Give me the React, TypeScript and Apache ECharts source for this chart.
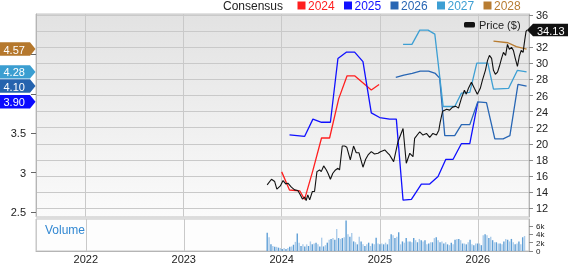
import React, { useEffect, useRef } from 'react';
import * as echarts from 'echarts';

const FONT = "'Liberation Sans', Arial, Helvetica, sans-serif";

// ---- Consensus EPS (left axis) ----
const eps2024Dates = ['2024-01-01', '2024-01-30', '2024-03-08', '2024-03-26', '2024-04-26', '2024-05-28', '2024-06-27', '2024-07-31', '2024-08-31', '2024-09-28', '2024-11-29', '2024-12-28'];
const eps2024Values = [3.01, 2.78, 2.77, 2.66, 3.03, 3.44, 3.44, 3.94, 4.23, 4.23, 4.05, 4.12];

const eps2025Dates = ['2024-01-30', '2024-03-26', '2024-04-26', '2024-05-28', '2024-06-30', '2024-07-28', '2024-08-28', '2024-09-28', '2024-10-29', '2024-11-29', '2024-12-30', '2025-02-05', '2025-03-02', '2025-03-27', '2025-04-27', '2025-06-03', '2025-07-04', '2025-08-04', '2025-09-02', '2025-09-29', '2025-10-30', '2025-11-30', '2025-12-30'];
const eps2025Values = [3.48, 3.46, 3.68, 3.64, 3.64, 4.45, 4.53, 4.53, 4.41, 3.76, 3.70, 3.68, 3.68, 2.65, 2.66, 2.855, 2.855, 2.95, 3.17, 3.17, 3.37, 3.37, 3.90];

const eps2026Dates = ['2025-02-28', '2025-03-30', '2025-04-30', '2025-05-30', '2025-06-30', '2025-07-25', '2025-08-10', '2025-08-29', '2025-10-05', '2025-10-30', '2025-11-30', '2025-12-30', '2026-01-31', '2026-03-03', '2026-04-03', '2026-04-28', '2026-05-28', '2026-06-29'];
const eps2026Values = [4.21, 4.24, 4.26, 4.29, 4.29, 4.26, 4.20, 3.47, 3.47, 3.61, 3.61, 3.90, 3.89, 3.43, 3.43, 3.47, 4.12, 4.10];

const eps2027Dates = ['2025-03-27', '2025-04-29', '2025-05-28', '2025-06-28', '2025-07-23', '2025-08-23', '2025-10-05', '2025-10-30', '2025-11-30', '2025-12-26', '2026-02-05', '2026-02-26', '2026-04-23', '2026-05-26', '2026-06-29'];
const eps2027Values = [4.63, 4.63, 4.81, 4.81, 4.76, 3.84, 3.84, 4.01, 4.02, 4.39, 4.39, 4.06, 4.07, 4.30, 4.28];

const eps2028Dates = ['2026-02-26', '2026-04-21', '2026-05-22', '2026-06-29'];
const eps2028Values = [4.67, 4.65, 4.60, 4.57];

// ---- Price (right axis) ----
const priceDates = ['2023-11-08', '2023-11-24', '2023-12-06', '2023-12-14', '2023-12-27', '2024-01-06', '2024-01-16', '2024-01-24', '2024-02-06', '2024-02-18', '2024-03-01', '2024-03-10', '2024-03-18', '2024-03-26', '2024-04-01', '2024-04-07', '2024-04-14', '2024-04-24', '2024-05-02', '2024-05-11', '2024-05-21', '2024-05-27', '2024-06-05', '2024-06-15', '2024-06-21', '2024-06-30', '2024-07-09', '2024-07-19', '2024-07-28', '2024-08-03', '2024-08-13', '2024-08-22', '2024-08-30', '2024-09-12', '2024-09-24', '2024-10-04', '2024-10-14', '2024-10-29', '2024-11-08', '2024-11-17', '2024-11-29', '2024-12-11', '2024-12-24', '2025-01-02', '2025-01-18', '2025-01-30', '2025-02-05', '2025-02-20', '2025-03-08', '2025-03-27', '2025-04-08', '2025-04-21', '2025-05-03', '2025-05-09', '2025-05-28', '2025-06-09', '2025-06-22', '2025-07-04', '2025-07-16', '2025-07-29', '2025-08-07', '2025-08-12', '2025-08-21', '2025-09-05', '2025-09-16', '2025-09-27', '2025-10-08', '2025-10-19', '2025-10-30', '2025-11-10', '2025-11-17', '2025-11-25', '2025-12-06', '2025-12-17', '2025-12-28', '2026-01-08', '2026-01-16', '2026-01-27', '2026-02-04', '2026-02-11', '2026-02-19', '2026-02-26', '2026-03-05', '2026-03-13', '2026-03-20', '2026-03-28', '2026-04-04', '2026-04-12', '2026-04-19', '2026-04-26', '2026-05-04', '2026-05-11', '2026-05-18', '2026-05-26', '2026-06-02', '2026-06-09', '2026-06-16', '2026-06-22', '2026-06-27', '2026-07-01'];
const priceValues = [14.91, 15.61, 15.32, 14.38, 14.78, 15.44, 15.03, 15.12, 14.62, 14.29, 14.2, 13.67, 13.14, 13.39, 12.97, 13.67, 13.05, 14.08, 14.08, 16.55, 16.76, 16.55, 17.26, 16.76, 16.35, 15.61, 16.35, 16.76, 16.97, 16.76, 19.73, 19.73, 19.57, 18.0, 19.73, 18.9, 18.9, 17.1, 18.09, 18.62, 19.03, 18.74, 18.83, 19.03, 19.24, 18.83, 18.62, 17.79, 20.26, 21.9, 17.59, 18.83, 18.41, 20.69, 21.5, 21.09, 21.3, 20.8, 21.3, 21.09, 21.7, 22.7, 24.06, 24.3, 24.19, 24.56, 24.68, 24.43, 25.67, 26.66, 26.17, 26.9, 27.65, 26.9, 26.17, 26.9, 27.9, 29.13, 30.37, 30.99, 30.62, 29.13, 28.64, 28.9, 29.63, 30.62, 31.36, 30.99, 32.35, 31.73, 31.98, 31.6, 30.62, 29.63, 30.87, 31.6, 31.36, 32.85, 33.96, 34.13];

// ---- Weekly volume (shares) ----
const volumeStart = '2023-11-08';
const volumeValues = [
  4400, 3300, 1600, 1200, 1000, 1000, 800, 700, 500, 700,
  500, 700, 1000, 1100, 1500, 2200, 4200, 2000, 1200, 1600,
  1100, 1600, 1200, 2300, 1600, 1800, 2000, 1600, 1100, 3200,
  1100, 1400, 2000, 2700, 2900, 3100, 2700, 5300, 3100, 2900,
  3100, 3300, 7300, 4000, 3400, 4300, 2300, 2100, 1600, 3400,
  2300, 1600, 1200, 1600, 2000, 1200, 1800, 1600, 3200, 1800,
  1600, 1800, 1600, 2000, 1600, 2900, 4000,
  3800, 3100, 3400, 4500, 1600, 2300, 2000, 3100, 2300, 2300,
  2100, 3100, 2600, 2100, 2900, 2600, 2300, 2600, 1600, 1800,
  2100, 2100, 3100, 3300, 2600, 2100, 2300, 1800, 2100, 1600,
  1400, 2000, 1600, 2700, 2900, 2900, 2600, 1800, 1800, 1600,
  2100, 2700, 1600, 1400, 1800, 1800, 1800, 1400, 3800, 4000,
  3800, 3100, 3400, 2600, 2100, 2100, 1800, 1800, 1600, 2300,
  2900, 2700, 2300, 2900, 2100, 1600, 1800, 2300, 1600, 3300,
  3600,
];

// ---- Axis ticks / labels ----
const epsTicks = [2.5, 3, 3.5, 4, 4.5];
const epsLabels = [2.5, 3, 3.5]; // 4 and 4.5 sit under the badges
const priceTicks = [12, 14, 16, 18, 20, 22, 24, 26, 28, 30, 32, 34, 36];
const priceLabels = [12, 14, 16, 18, 20, 22, 24, 26, 28, 30, 32, 36]; // 34 sits under the price badge
const volumeTicks = [0, 2000, 4000, 6000];
const volumeTickLabels = ['0', '2k', '4k', '6k'];
const legendYears = ['2024', '2025', '2026', '2027', '2028'];
const latestEps = [4.57, 4.28, 4.10, 3.90];
const latestPrice = 34.13;

const yearColors = ['#ff1f1f', '#1010ff', '#2866b4', '#3d9fd3', '#b87c31'];
const badgeColors = ['#b5782d', '#3b9ed1', '#2563ae', '#0a0aff'];

const zip = (d: string[], v: number[]) => d.map((x, i) => [x, v[i]]);
const DAY = 24 * 3600 * 1000;

export default function App() {
  const ref = useRef<HTMLDivElement>(null);
  useEffect(() => {
    if (!ref.current) return;
    const chart = echarts.init(ref.current, undefined, { renderer: 'svg' });
    const xMin = '2021-07-02';
    const xMax = '2026-07-08';
    const startT = new Date(volumeStart + 'T00:00:00').getTime();
    const volumeData = volumeValues.map((v, i) => [startT + i * 7 * DAY, v]);
    const yearFmt = (v: number) => {
      const d = new Date(v);
      return d.getMonth() === 0 && d.getDate() === 1 ? String(d.getFullYear()) : '';
    };
    const near = (arr: number[], v: number) => arr.some((t) => Math.abs(t - v) < 1e-6);
    const gridLine = { show: true, lineStyle: { color: '#c9c9c9', width: 1 } };
    const epsSeries = [eps2024Dates, eps2025Dates, eps2026Dates, eps2027Dates, eps2028Dates].map((d, i) => ({
      type: 'line',
      name: legendYears[i],
      xAxisIndex: 0,
      yAxisIndex: 0,
      data: zip(d, [eps2024Values, eps2025Values, eps2026Values, eps2027Values, eps2028Values][i]),
      symbol: 'none',
      lineStyle: { color: yearColors[i], width: 1.3 },
      itemStyle: { color: yearColors[i] },
      z: 3,
    }));

    const option: any = {
      animation: false,
      textStyle: { fontFamily: FONT },
      grid: [
        {
          left: 36, right: 39, top: 14, height: 203, show: true,
          backgroundColor: new echarts.graphic.LinearGradient(0, 0, 0, 1, [
            { offset: 0, color: '#e2e2e2' },
            { offset: 1, color: '#fbfbfb' },
          ]),
          borderColor: '#c4c4c4', borderWidth: 1,
        },
        { left: 36, right: 39, top: 219, height: 35, show: true, backgroundColor: '#fdfdfd', borderColor: '#c4c4c4', borderWidth: 1 },
      ],
      xAxis: [
        {
          type: 'time', gridIndex: 0, min: xMin, max: xMax, minInterval: 365 * DAY,
          axisLabel: { show: false }, axisTick: { show: false }, axisLine: { show: false },
          splitLine: gridLine,
        },
        {
          type: 'time', gridIndex: 1, min: xMin, max: xMax, minInterval: 365 * DAY,
          axisLabel: { formatter: yearFmt, fontSize: 11, color: '#222', margin: 2, fontFamily: FONT, hideOverlap: false },
          axisTick: { show: false },
          axisLine: { show: true, lineStyle: { color: '#b5b5b5' } },
          splitLine: gridLine,
        },
      ],
      yAxis: [
        {
          type: 'value', gridIndex: 0, position: 'left', min: 2.437, max: 5.015,
          minInterval: 0.5, maxInterval: 0.5,
          axisLine: { show: true, lineStyle: { color: '#b5b5b5' } },
          axisTick: { show: true, length: 5, lineStyle: { color: '#666' }, customValues: epsTicks },
          axisLabel: {
            fontSize: 11, color: '#222', margin: 10, fontFamily: FONT, customValues: epsLabels,
            hideOverlap: false, showMinLabel: true, showMaxLabel: true,
            formatter: (v: number) => (near(epsLabels, v) ? String(Math.round(v * 10) / 10) : ''),
          },
          splitLine: { show: false },
        },
        {
          type: 'value', gridIndex: 0, position: 'right', min: 10.92, max: 36.12,
          minInterval: 2, maxInterval: 2,
          axisLine: { show: true, lineStyle: { color: '#b5b5b5' } },
          axisTick: { show: true, length: 4, lineStyle: { color: '#888' }, customValues: priceTicks },
          axisLabel: {
            fontSize: 11, color: '#222', margin: 7, fontFamily: FONT, customValues: priceLabels,
            hideOverlap: false, showMinLabel: true, showMaxLabel: true,
            formatter: (v: number) => (near(priceLabels, v) ? String(Math.round(v)) : ''),
          },
          splitLine: gridLine,
        },
        {
          type: 'value', gridIndex: 1, position: 'right', min: 0, max: 7690,
          minInterval: 2000, maxInterval: 2000,
          axisLine: { show: true, lineStyle: { color: '#b5b5b5' } },
          axisTick: { show: true, length: 4, lineStyle: { color: '#888' }, customValues: volumeTicks },
          axisLabel: { show: false },
          splitLine: { show: false },
        },
      ],
      series: [
        {
          type: 'bar', xAxisIndex: 1, yAxisIndex: 2, data: volumeData, barWidth: 1.4,
          itemStyle: { color: (p: any) => (p.dataIndex % 2 === 0 ? '#5f9fd6' : '#acccea') },
          z: 2,
        },
        ...epsSeries,
        {
          type: 'line', name: 'Price ($)', xAxisIndex: 0, yAxisIndex: 1,
          data: zip(priceDates, priceValues), symbol: 'none',
          lineStyle: { color: '#111', width: 1.1 }, itemStyle: { color: '#111' }, z: 4,
        },
      ],
    };
    chart.setOption(option);

    const graphics: any[] = [];
    graphics.push({ type: 'text', x: 223, y: 6, style: { text: 'Consensus', fill: '#222', font: `12px ${FONT}`, verticalAlign: 'middle' }, z: 50 });
    legendYears.forEach((yr, i) => {
      const x0 = 297.5 + i * 46.5;
      graphics.push({ type: 'rect', shape: { x: x0, y: 1.5, width: 8, height: 8 }, style: { fill: yearColors[i] }, z: 50 });
      graphics.push({ type: 'text', x: x0 + 10.5, y: 6, style: { text: yr, fill: yearColors[i], font: `12px ${FONT}`, verticalAlign: 'middle' }, z: 50 });
    });
    graphics.push({ type: 'rect', shape: { x: 464, y: 22, width: 11, height: 5.5, r: 1.5 }, style: { fill: '#111' }, z: 50 });
    graphics.push({ type: 'text', x: 479, y: 25, style: { text: 'Price ($)', fill: '#222', font: `11px ${FONT}`, verticalAlign: 'middle' }, z: 50 });
    graphics.push({ type: 'text', x: 45, y: 229.5, style: { text: 'Volume', fill: '#3288d2', font: `12px ${FONT}`, verticalAlign: 'middle' }, z: 50 });
    graphics.push({ type: 'rect', shape: { x: 36, y: 216.6, width: 493, height: 2.2 }, style: { fill: '#dcdcdc' }, z: 40 });

    // volume axis labels (tight panel: placed from the axis scale)
    volumeTicks.forEach((v, i) => {
      const y = chart.convertToPixel({ yAxisIndex: 2 } as any, v) as number;
      graphics.push({ type: 'text', x: 536, y: y + 0.5, style: { text: volumeTickLabels[i], fill: '#222', font: `8px ${FONT}`, verticalAlign: 'middle' }, z: 50 });
    });

    latestEps.forEach((v, i) => {
      const y = chart.convertToPixel({ yAxisIndex: 0 } as any, v) as number;
      const h = 6.7;
      graphics.push({
        type: 'polygon',
        shape: { points: [[0, y - h], [30, y - h], [35.5, y], [30, y + h], [0, y + h]] },
        style: { fill: badgeColors[i] },
        z: 60,
      });
      graphics.push({ type: 'text', x: 3.5, y: y + 0.5, style: { text: v.toFixed(2), fill: '#fff', font: `11px ${FONT}`, verticalAlign: 'middle' }, z: 61 });
    });
    {
      const y = chart.convertToPixel({ yAxisIndex: 1 } as any, latestPrice) as number;
      const h = 6.3;
      graphics.push({
        type: 'polygon',
        shape: { points: [[527, y], [533, y - h], [568, y - h], [568, y + h], [533, y + h]] },
        style: { fill: '#111' },
        z: 60,
      });
      graphics.push({ type: 'text', x: 537, y: y + 0.5, style: { text: latestPrice.toFixed(2), fill: '#fff', font: `11px ${FONT}`, verticalAlign: 'middle' }, z: 61 });
    }
    chart.setOption({ graphic: graphics });

    return () => chart.dispose();
  }, []);
  return <div ref={ref} style={{ position: 'fixed', left: 0, top: 0, width: 568, height: 264 }} />;
}
